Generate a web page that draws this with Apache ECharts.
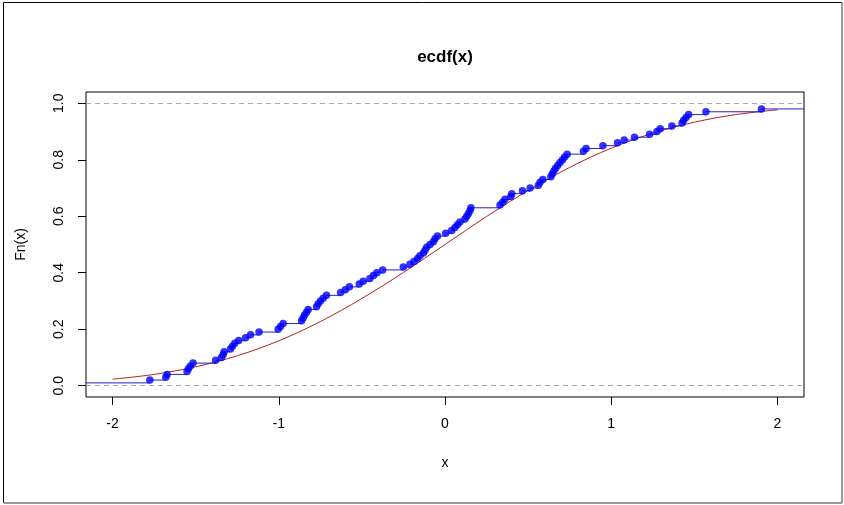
<!DOCTYPE html>
<html>
<head>
<meta charset="utf-8">
<script src="https://cdn.jsdelivr.net/npm/echarts@6/dist/echarts.min.js"></script>
<style>
  html, body { margin: 0; padding: 0; background: #fff; }
  #chart { width: 844px; height: 505px; }
</style>
</head>
<body>
<div id="chart"></div>
<script>
// Sample whose empirical CDF is plotted (sorted; a few values fall outside the visible x range)
const sampleX = [
  -2.28,
  -1.776, -1.68, -1.672, -1.552, -1.544, -1.532, -1.516, -1.38, -1.345, -1.335,
  -1.329, -1.291, -1.279, -1.265, -1.241, -1.20, -1.17, -1.119, -1.004, -0.99,
  -0.974, -0.863, -0.854, -0.845, -0.833, -0.823, -0.773, -0.763, -0.749, -0.733,
  -0.713, -0.628, -0.60, -0.575, -0.516, -0.492, -0.452, -0.43, -0.41, -0.375,
  -0.251, -0.211, -0.187, -0.165, -0.151, -0.13, -0.12, -0.11, -0.09, -0.07,
  -0.06, -0.045, 0.004, 0.04, 0.06, 0.075, 0.09, 0.12, 0.131, 0.141,
  0.151, 0.156, 0.331, 0.347, 0.361, 0.396, 0.402, 0.466, 0.512, 0.562,
  0.572, 0.589, 0.637, 0.645, 0.655, 0.665, 0.678, 0.692, 0.707, 0.72,
  0.735, 0.833, 0.849, 0.95, 1.038, 1.078, 1.14, 1.231, 1.275, 1.295,
  1.365, 1.426, 1.436, 1.45, 1.466, 1.57, 1.904,
  2.30, 2.45
];

// Reference normal CDF curve, sampled from -2 to 2
const curveX = [-2, -1.75, -1.5, -1.25, -1, -0.75, -0.5, -0.25, 0, 0.25, 0.5, 0.75, 1, 1.25, 1.5, 1.75, 2];
const curveY = [0.023, 0.040, 0.067, 0.106, 0.159, 0.227, 0.309, 0.401, 0.5, 0.599, 0.691, 0.773, 0.841, 0.894, 0.933, 0.960, 0.977];

// Axis ticks
const xTicks = [-2, -1, 0, 1, 2];
const yTicks = [0, 0.2, 0.4, 0.6, 0.8, 1.0];

const n = sampleX.length;
const sorted = sampleX.slice().sort((a, b) => a - b);
const ecdfPoints = sorted.map((x, i) => [x, (i + 1) / n]);
// Horizontal steps: [from x, to x, level]
const steps = [[-100, sorted[0], 0]];
sorted.forEach((x, i) => {
  const next = i + 1 < n ? sorted[i + 1] : 100;
  steps.push([x, next, (i + 1) / n]);
});
const curveData = curveX.map((x, i) => [x, curveY[i]]);

const FONT = '"Liberation Sans", Arial, sans-serif';
const chart = echarts.init(document.getElementById('chart'), null, { renderer: 'canvas' });

chart.setOption({
  animation: false,
  backgroundColor: '#fff',
  grid: {
    left: 86, right: 40, top: 92, bottom: 108,
    show: true, borderColor: '#000', borderWidth: 1, backgroundColor: 'transparent'
  },
  xAxis: {
    type: 'value', min: -2.16, max: 2.16,
    axisLine: { show: false, onZero: false },
    splitLine: { show: false },
    axisTick: { show: true, inside: false, length: 8, customValues: xTicks, lineStyle: { color: '#000', width: 1 } },
    axisLabel: { customValues: xTicks, margin: 20, fontFamily: FONT, fontSize: 14, color: '#000',
      formatter: v => String(v) }
  },
  yAxis: {
    type: 'value', min: -0.04, max: 1.04,
    axisLine: { show: false, onZero: false },
    splitLine: { show: false },
    axisTick: { show: true, inside: false, length: 8, customValues: yTicks, lineStyle: { color: '#000', width: 1 } },
    axisLabel: { customValues: yTicks, rotate: 90, margin: 20, fontFamily: FONT, fontSize: 14, color: '#000',
      formatter: v => v.toFixed(1) }
  },
  series: [
    {
      type: 'line',
      data: curveData,
      smooth: 0.35,
      showSymbol: false,
      lineStyle: { color: '#b22222', width: 1 },
      z: 2,
      markLine: {
        silent: true,
        symbol: ['none', 'none'],
        label: { show: false },
        lineStyle: { color: '#aaaaaa', type: [5, 4], width: 1 },
        data: [{ yAxis: 0 }, { yAxis: 1 }]
      }
    },
    {
      type: 'custom',
      clip: true,
      data: steps,
      encode: { x: [0, 1], y: 2 },
      renderItem: (params, api) => {
        const p1 = api.coord([api.value(0), api.value(2)]);
        const p2 = api.coord([api.value(1), api.value(2)]);
        return {
          type: 'line',
          shape: { x1: p1[0], y1: p1[1], x2: p2[0], y2: p2[1] },
          style: { stroke: '#2222cc', lineWidth: 1 }
        };
      },
      z: 3
    },
    {
      type: 'scatter',
      clip: true,
      data: ecdfPoints,
      symbol: 'circle',
      symbolSize: 7.5,
      itemStyle: { color: '#0000ff' },
      z: 4
    }
  ],
  graphic: [
    { type: 'text', x: 445, y: 57, style: { text: 'ecdf(x)', fontFamily: FONT, fontSize: 17, fontWeight: 'bold', fill: '#000', align: 'center', verticalAlign: 'middle' } },
    { type: 'text', x: 445, y: 463, style: { text: 'x', fontFamily: FONT, fontSize: 14, fill: '#000', align: 'center', verticalAlign: 'middle' } },
    { type: 'text', x: 21, y: 244.5, rotation: Math.PI / 2, style: { text: 'Fn(x)', fontFamily: FONT, fontSize: 14, fill: '#000', align: 'center', verticalAlign: 'middle' } },
    { type: 'line', shape: { x1: 3.5, y1: 2.5, x2: 3.5, y2: 503 }, style: { stroke: '#000', lineWidth: 1 } },
    { type: 'line', shape: { x1: 3.5, y1: 2.5, x2: 842, y2: 2.5 }, style: { stroke: '#000', lineWidth: 1 } },
    { type: 'line', shape: { x1: 842, y1: 2.5, x2: 842, y2: 503 }, style: { stroke: '#999', lineWidth: 2 } },
    { type: 'line', shape: { x1: 3.5, y1: 503, x2: 842, y2: 503 }, style: { stroke: '#999', lineWidth: 2 } }
  ]
});
</script>
</body>
</html>
